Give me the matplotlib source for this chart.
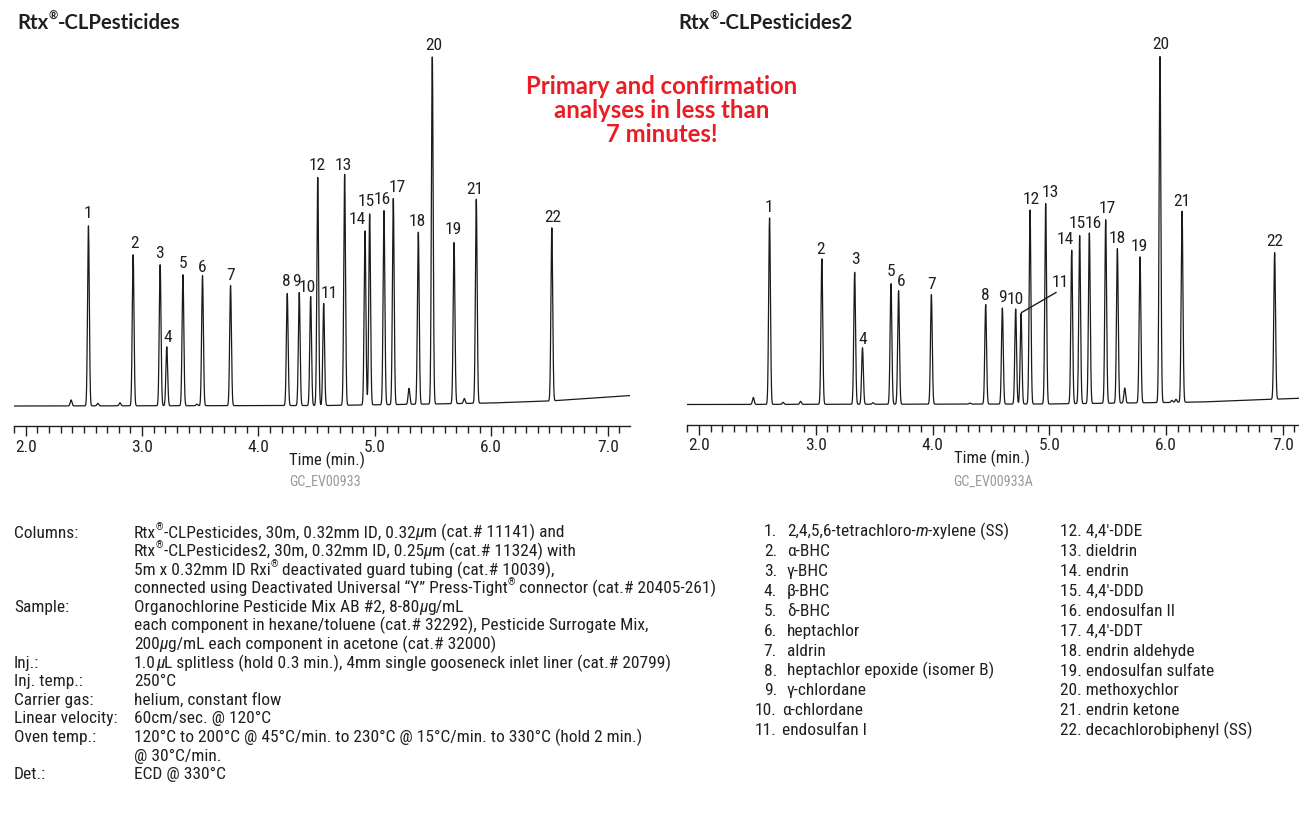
import numpy as np
import matplotlib
matplotlib.use("Agg")
import matplotlib.pyplot as plt
from matplotlib.ticker import MultipleLocator, FixedLocator, FixedFormatter

# ---------------- data ----------------
peak_numbers = list(range(1, 23))

compounds = [
    "2,4,5,6-tetrachloro-m-xylene (SS)", "α-BHC", "γ-BHC", "β-BHC", "δ-BHC",
    "heptachlor", "aldrin", "heptachlor epoxide (isomer B)", "γ-chlordane",
    "α-chlordane", "endosulfan I", "4,4'-DDE", "dieldrin", "endrin", "4,4'-DDD",
    "endosulfan II", "4,4'-DDT", "endrin aldehyde", "endosulfan sulfate",
    "methoxychlor", "endrin ketone", "decachlorobiphenyl (SS)",
]

# Primary column (Rtx-CLPesticides): retention time (min) and peak height (detector units)
rt_primary = [2.539, 2.923, 3.155, 3.212, 3.351, 3.519, 3.760, 4.247, 4.350, 4.448, 4.560,
              4.509, 4.740, 4.915, 4.955, 5.078, 5.158, 5.373, 5.680, 5.493, 5.871, 6.520]
h_primary = [180, 151, 141, 59, 131, 130, 120, 112, 113, 109, 102,
             228, 231, 174, 191, 194, 206, 172, 161, 347, 204, 173]
# minor unlabelled peaks
rt_minor_primary = [2.39, 2.62, 2.81, 3.47, 5.293, 5.768]
h_minor_primary = [6, 2.5, 3, 1.5, 16, 5]
# baseline drift knots
drift_t_primary = [1.9, 4.6, 5.5, 6.0, 6.5, 7.2]
drift_primary = [0, 0.5, 2, 3, 5, 10.5]

# Confirmation column (Rtx-CLPesticides2)
rt_confirm = [2.604, 3.052, 3.333, 3.400, 3.644, 3.709, 3.990, 4.455, 4.598, 4.712, 4.758,
              4.835, 4.969, 5.192, 5.260, 5.343, 5.483, 5.583, 5.777, 5.948, 6.137, 6.930]
h_confirm = [186.5, 145.5, 132, 56.5, 120.5, 113.5, 109.5, 99.5, 96, 95, 90.5,
             194, 200.5, 153.5, 168, 170.5, 183.5, 154.5, 146, 346, 191, 146.5]
rt_minor_confirm = [2.465, 2.72, 2.87, 3.49, 4.32, 5.646, 6.05, 6.085]
h_minor_confirm = [7, 2, 3, 1.5, 1, 15, 2, 3]
drift_t_confirm = [1.9, 5.0, 6.0, 6.3, 7.2]
drift_confirm = [0, 0.5, 2, 2.5, 6.5]

tick_values = [2, 3, 4, 5, 6, 7]
tick_labels = ["2.0", "3.0", "4.0", "5.0", "6.0", "7.0"]

# ---------------- layout (label placement, data coords) ----------------
lab_primary = {
    "1": (2.536, 192), "2": (2.931, 163), "3": (3.152, 152), "4": (3.219, 69),
    "5": (3.351, 143), "6": (3.515, 139), "7": (3.761, 131), "8": (4.240, 124),
    "9": (4.328, 124), "10": (4.419, 119), "11": (4.608, 113), "12": (4.500, 240),
    "13": (4.728, 241), "14": (4.849, 186), "15": (4.930, 204), "16": (5.067, 206),
    "17": (5.190, 218), "18": (5.368, 184), "19": (5.674, 176), "20": (5.504, 360),
    "21": (5.860, 217), "22": (6.527, 189),
}
lab_confirm = {
    "1": (2.600, 197), "2": (3.041, 155), "3": (3.340, 145), "4": (3.404, 65),
    "5": (3.649, 133), "6": (3.734, 123), "7": (3.993, 120), "8": (4.456, 109),
    "9": (4.598, 107), "10": (4.712, 105.5), "11": (5.092, 122), "12": (4.843, 204.5),
    "13": (5.006, 212), "14": (5.135, 165), "15": (5.243, 180.5), "16": (5.377, 180.5),
    "17": (5.500, 196), "18": (5.586, 166), "19": (5.771, 158), "20": (5.955, 360),
    "21": (6.139, 203.5), "22": (6.932, 163),
}

W, H = 1299, 817
NARROW = ["Roboto Condensed", "DejaVu Sans"]
BOLD = ["Lato", "DejaVu Sans"]
INK = "#231f20"

fig = plt.figure(figsize=(W / 100, H / 100), dpi=100)
fig.patch.set_facecolor("white")


def trace(t, rts, hs, rts_m, hs_m, dk_t, dk_v, sigma=0.0075):
    y = np.interp(t, dk_t, dk_v)
    for r, h in zip(list(rts) + list(rts_m), list(hs) + list(hs_m)):
        y = y + h * np.exp(-0.5 * ((t - r) / sigma) ** 2)
    return y


def make_axes(rect, xlim, ylim):
    ax = fig.add_axes(rect)
    ax.set_xlim(*xlim)
    ax.set_ylim(*ylim)
    for s in ("top", "right", "left"):
        ax.spines[s].set_visible(False)
    ax.spines["bottom"].set_linewidth(1.0)
    ax.spines["bottom"].set_color(INK)
    ax.set_yticks([])
    ax.xaxis.set_major_locator(FixedLocator(tick_values))
    ax.xaxis.set_major_formatter(FixedFormatter(tick_labels))
    ax.xaxis.set_minor_locator(MultipleLocator(0.1))
    ax.tick_params(axis="x", which="major", direction="out", length=7, width=1.0,
                   pad=3, labelsize=12.5, labelcolor=INK, color=INK)
    ax.tick_params(axis="x", which="minor", direction="out", length=5, width=1.0, color=INK)
    for lab in ax.get_xticklabels():
        lab.set_fontfamily(NARROW)
    ax.patch.set_alpha(0)
    return ax


t = np.arange(1.88, 7.25, 0.0005)

# left chromatogram
axL = make_axes([14 / W, (H - 426) / H, (630 - 14) / W, (426 - 30) / H], (1.8995, 7.1916), (-20, 376))
axL.plot(t, trace(t, rt_primary, h_primary, rt_minor_primary, h_minor_primary,
                  drift_t_primary, drift_primary), color="#1a1a1a", lw=0.9)
for k, (x, y) in lab_primary.items():
    axL.text(x, y, k, ha="center", va="center", fontsize=12.5, family=NARROW, color=INK)

# right chromatogram
axR = make_axes([687 / W, (H - 424.5) / H, (1305 - 687) / W, (424.5 - 30) / H], (1.897, 7.19), (-20, 374.5))
axR.plot(t, trace(t, rt_confirm, h_confirm, rt_minor_confirm, h_minor_confirm,
                  drift_t_confirm, drift_confirm), color="#1a1a1a", lw=0.9)
for k, (x, y) in lab_confirm.items():
    axR.text(x, y, k, ha="center", va="center", fontsize=12.5, family=NARROW, color=INK)
axR.plot([4.763, 5.057], [92, 112], color="#1a1a1a", lw=1.0)


def px(x, y):
    return x / W, 1 - y / H


renderer = fig.canvas.get_renderer()


def rich(xp, yp, parts, size, family, color=INK, weight="normal"):
    """Draw consecutive text pieces on a shared baseline (pixel coordinates)."""
    x = xp
    for s, kind in parts:
        kw = dict(fontsize=size, family=family, color=color, weight=weight,
                  va="baseline", ha="left")
        y = yp
        if kind == "sup":
            kw["fontsize"] = size * 0.55
            y = yp - size * 0.62
        elif kind == "it":
            kw["style"] = "italic"
        tx = fig.text(*px(x, y), s, **kw)
        x += tx.get_window_extent(renderer=renderer).width
    return x


# titles
rich(17, 29, [("Rtx", "n"), ("®", "sup"), ("-CLPesticides", "n")], 14.6, BOLD, INK, "bold")
rich(678, 29, [("Rtx", "n"), ("®", "sup"), ("-CLPesticides2", "n")], 14.6, BOLD, INK, "bold")

# red message
for yy, s in zip([87, 111, 135], ["Primary and confirmation", "analyses in less than", "7 minutes!"]):
    fig.text(*px(662, yy), s, ha="center", va="center", fontsize=17.2, family=BOLD,
             weight="bold", color="#ED1C24")

# axis titles and codes
fig.text(*px(326.5, 460), "Time (min.)", ha="center", va="center", fontsize=12, family=NARROW, color=INK)
fig.text(*px(992.5, 458), "Time (min.)", ha="center", va="center", fontsize=12, family=NARROW, color=INK)
fig.text(*px(325, 481.5), "GC_EV00933", ha="center", va="center", fontsize=10.2, family=NARROW, color="#9a9a9a")
fig.text(*px(993, 481.5), "GC_EV00933A", ha="center", va="center", fontsize=10.2, family=NARROW, color="#9a9a9a")

# conditions block
cond_labels = {0: "Columns:", 4: "Sample:", 7: "Inj.:", 8: "Inj. temp.:", 9: "Carrier gas:",
               10: "Linear velocity:", 11: "Oven temp.:", 13: "Det.:"}
cond_lines = [
    [("Rtx", "n"), ("®", "sup"), ("-CLPesticides, 30m, 0.32mm ID, 0.32", "n"), ("μ", "it"), ("m (cat.# 11141) and", "n")],
    [("Rtx", "n"), ("®", "sup"), ("-CLPesticides2, 30m, 0.32mm ID, 0.25", "n"), ("μ", "it"), ("m (cat.# 11324) with", "n")],
    [("5m x 0.32mm ID Rxi", "n"), ("®", "sup"), (" deactivated guard tubing (cat.# 10039),", "n")],
    [("connected using Deactivated Universal \u201cY\u201d Press-Tight", "n"), ("®", "sup"), (" connector (cat.# 20405-261)", "n")],
    [("Organochlorine Pesticide Mix AB #2, 8-80", "n"), ("μ", "it"), ("g/mL", "n")],
    [("each component in hexane/toluene (cat.# 32292), Pesticide Surrogate Mix,", "n")],
    [("200", "n"), ("μ", "it"), ("g/mL each component in acetone (cat.# 32000)", "n")],
    [("1.0", "n"), ("μ", "it"), ("L splitless (hold 0.3 min.), 4mm single gooseneck inlet liner (cat.# 20799)", "n")],
    [("250°C", "n")],
    [("helium, constant flow", "n")],
    [("60cm/sec. @ 120°C", "n")],
    [("120°C to 200°C @ 45°C/min. to 230°C @ 15°C/min. to 330°C (hold 2 min.)", "n")],
    [("@ 30°C/min.", "n")],
    [("ECD @ 330°C", "n")],
]
BODY = 12.5
row0, dy = 531.5, 18.6
for i, parts in enumerate(cond_lines):
    yb = row0 + i * dy + 6
    if i in cond_labels:
        rich(14, yb, [(cond_labels[i], "n")], BODY, NARROW)
    rich(134, yb, parts, BODY, NARROW)

# peak list
r0, rdy = 530, 19.93
for i, (n, name) in enumerate(zip(peak_numbers, compounds)):
    if i < 11:
        yb = r0 + i * rdy + 6
        fig.text(*px(777, yb), f"{n}.", ha="right", va="baseline", fontsize=BODY,
                 family=NARROW, color=INK)
        xn = 787 if n < 10 else 782
        if n == 1:
            rich(xn, yb, [("2,4,5,6-tetrachloro-", "n"), ("m", "it"), ("-xylene (SS)", "n")], BODY, NARROW)
        else:
            rich(xn, yb, [(name, "n")], BODY, NARROW)
    else:
        yb = r0 + (i - 11) * rdy + 6
        rich(1060, yb, [(f"{n}. {name}", "n")], BODY, NARROW)

fig.savefig("out.png", dpi=100, facecolor="white")
